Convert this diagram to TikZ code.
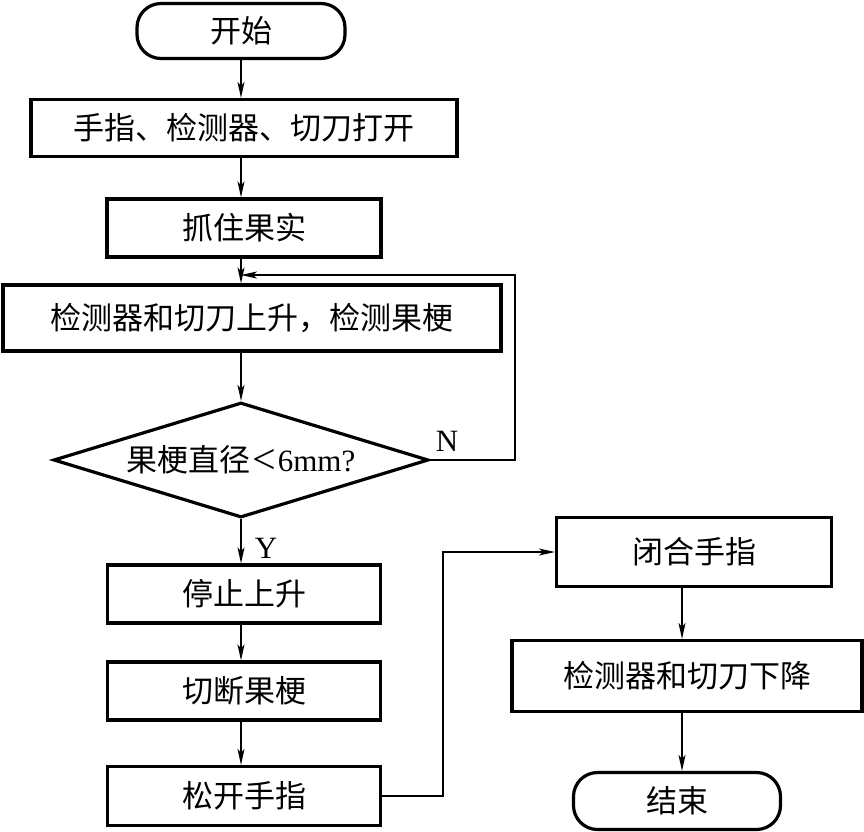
\documentclass[tikz,border=0pt]{standalone}
\usepackage{fontspec}
\setmainfont{Liberation Serif}
\newfontfamily\cjk{Noto Sans CJK SC}
\usetikzlibrary{shapes.geometric,arrows.meta}
\begin{document}
\begin{tikzpicture}[x=1pt,y=-1pt,
  boxx/.style={draw,line width=3.2pt,rectangle,inner sep=0pt,font=\cjk\fontsize{31}{35}\selectfont},
  term/.style={boxx,rounded corners=24pt},
  decis/.style={draw,line width=3.2pt,diamond,inner sep=0pt,shape aspect=3.26,minimum width=375pt,minimum height=115pt},
  arr/.style={line width=1.6pt,-{Stealth[length=16pt,width=7pt,inset=4pt]}},
  lbl/.style={font=\fontsize{31}{33}\selectfont,inner sep=0pt}]
\useasboundingbox (0,0) rectangle (864,831);
\node[term,minimum width=208pt,minimum height=55pt] (start) at (241,31) {开始};
\node[boxx,minimum width=426pt,minimum height=57pt] (b2) at (244,128) {手指、检测器、切刀打开};
\node[boxx,minimum width=274pt,minimum height=58pt] (b3) at (244,228) {抓住果实};
\node[boxx,minimum width=498pt,minimum height=66pt] (b4) at (252,318) {检测器和切刀上升，检测果梗};
\node[decis] (d) at (241,460) {{\cjk\fontsize{31}{35}\selectfont 果梗直径}\,{\fontsize{42}{42}\selectfont\raisebox{-2pt}{<}}\,{\fontsize{31}{35}\selectfont 6mm?}};
\node[boxx,minimum width=273pt,minimum height=58pt] (b5) at (244,594) {停止上升};
\node[boxx,minimum width=273pt,minimum height=58pt] (b6) at (244,691) {切断果梗};
\node[boxx,minimum width=273pt,minimum height=59pt] (b7) at (244,796) {松开手指};
\node[boxx,minimum width=275pt,minimum height=69pt] (b8) at (694,552) {闭合手指};
\node[boxx,minimum width=350pt,minimum height=71pt] (b9) at (687,676) {检测器和切刀下降};
\node[term,minimum width=207pt,minimum height=57pt] (end) at (677,801) {结束};
\node[lbl] (nl) at (447,441) {N};
\node[lbl] (yl) at (266,548) {Y};
\coordinate (rc) at (682,0);
\coordinate (j) at (241,275);
\draw[arr] (start.south -| d) -- (b2.north -| d);
\draw[arr] (b2.south -| d) -- (b3.north -| d);
\draw[arr] (b3.south -| d) -- (b4.north -| d);
\draw[arr] (b4.south -| d) -- (d.north);
\draw[arr] (d.east) -- ++(85,0) |- (j);
\draw[arr] (d.south) -- (b5.north -| d);
\draw[arr] (b5.south -| d) -- (b6.north -| d);
\draw[arr] (b6.south -| d) -- (b7.north -| d);
\draw[arr] (b7.east) -- ++(61,0) |- (b8.west);
\draw[arr] (b8.south -| rc) -- (b9.north -| rc);
\draw[arr] (b9.south -| rc) -- (end.north -| rc);
\end{tikzpicture}
\end{document}
